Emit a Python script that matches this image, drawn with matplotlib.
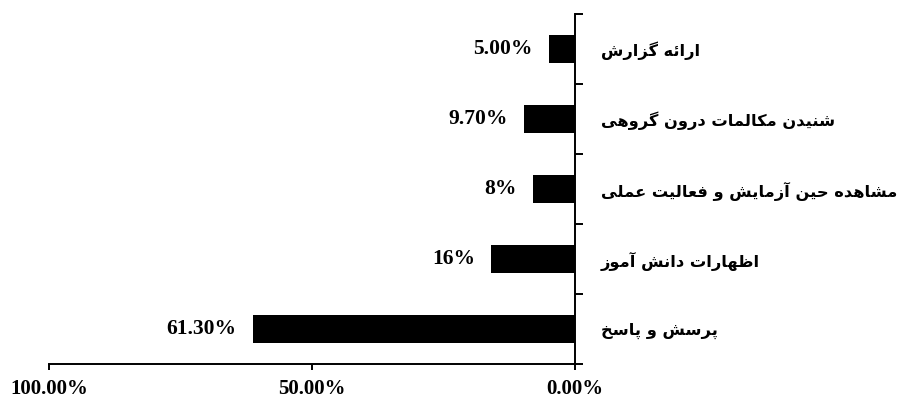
import matplotlib
matplotlib.use("Agg")
import matplotlib.pyplot as plt

# Response categories (top to bottom) and their shares in percent
categories = [
    "ارائه گزارش",
    "شنیدن مکالمات درون گروهی",
    "مشاهده حین آزمایش و فعالیت عملی",
    "اظهارات دانش آموز",
    "پرسش و پاسخ",
]
values = [5.00, 9.70, 8.0, 16.0, 61.30]
value_labels = ["5.00%", "9.70%", "8%", "16%", "61.30%"]
x_ticks = [0, 50, 100]
x_tick_labels = ["0.00%", "50.00%", "100.00%"]

# --- minimal Arabic/Persian contextual shaping (matplotlib has no shaper) ---
# letter: (isolated, final, initial, medial); None for forms that don't exist
FORMS = {
    "\u0621": ("\uFE80", None, None, None),
    "\u0622": ("\uFE81", "\uFE82", None, None),
    "\u0627": ("\uFE8D", "\uFE8E", None, None),
    "\u0626": ("\uFE89", "\uFE8A", "\uFE8B", "\uFE8C"),
    "\u0628": ("\uFE8F", "\uFE90", "\uFE91", "\uFE92"),
    "\u067E": ("\uFB56", "\uFB57", "\uFB58", "\uFB59"),
    "\u062A": ("\uFE95", "\uFE96", "\uFE97", "\uFE98"),
    "\u062B": ("\uFE99", "\uFE9A", "\uFE9B", "\uFE9C"),
    "\u062C": ("\uFE9D", "\uFE9E", "\uFE9F", "\uFEA0"),
    "\u0686": ("\uFB7A", "\uFB7B", "\uFB7C", "\uFB7D"),
    "\u062D": ("\uFEA1", "\uFEA2", "\uFEA3", "\uFEA4"),
    "\u062E": ("\uFEA5", "\uFEA6", "\uFEA7", "\uFEA8"),
    "\u062F": ("\uFEA9", "\uFEAA", None, None),
    "\u0630": ("\uFEAB", "\uFEAC", None, None),
    "\u0631": ("\uFEAD", "\uFEAE", None, None),
    "\u0632": ("\uFEAF", "\uFEB0", None, None),
    "\u0698": ("\uFB8A", "\uFB8B", None, None),
    "\u0633": ("\uFEB1", "\uFEB2", "\uFEB3", "\uFEB4"),
    "\u0634": ("\uFEB5", "\uFEB6", "\uFEB7", "\uFEB8"),
    "\u0635": ("\uFEB9", "\uFEBA", "\uFEBB", "\uFEBC"),
    "\u0636": ("\uFEBD", "\uFEBE", "\uFEBF", "\uFEC0"),
    "\u0637": ("\uFEC1", "\uFEC2", "\uFEC3", "\uFEC4"),
    "\u0638": ("\uFEC5", "\uFEC6", "\uFEC7", "\uFEC8"),
    "\u0639": ("\uFEC9", "\uFECA", "\uFECB", "\uFECC"),
    "\u063A": ("\uFECD", "\uFECE", "\uFECF", "\uFED0"),
    "\u0641": ("\uFED1", "\uFED2", "\uFED3", "\uFED4"),
    "\u0642": ("\uFED5", "\uFED6", "\uFED7", "\uFED8"),
    "\u06A9": ("\uFB8E", "\uFB8F", "\uFB90", "\uFB91"),
    "\u06AF": ("\uFB92", "\uFB93", "\uFB94", "\uFB95"),
    "\u0644": ("\uFEDD", "\uFEDE", "\uFEDF", "\uFEE0"),
    "\u0645": ("\uFEE1", "\uFEE2", "\uFEE3", "\uFEE4"),
    "\u0646": ("\uFEE5", "\uFEE6", "\uFEE7", "\uFEE8"),
    "\u0647": ("\uFEE9", "\uFEEA", "\uFEEB", "\uFEEC"),
    "\u0648": ("\uFEED", "\uFEEE", None, None),
    "\u06CC": ("\uFBFC", "\uFBFD", "\uFBFE", "\uFBFF"),
}


def joins_next(ch):
    f = FORMS.get(ch)
    return f is not None and f[2] is not None


def joins_prev(ch):
    f = FORMS.get(ch)
    return f is not None and f[1] is not None


def shape(text):
    out = []
    n = len(text)
    for i, ch in enumerate(text):
        if ch not in FORMS:
            out.append(ch)
            continue
        prev_c = text[i - 1] if i > 0 else ""
        next_c = text[i + 1] if i + 1 < n else ""
        a = joins_next(prev_c) and joins_prev(ch)
        b = joins_next(ch) and joins_prev(next_c)
        iso, fin, ini, med = FORMS[ch]
        if a and b:
            out.append(med)
        elif a:
            out.append(fin)
        elif b:
            out.append(ini)
        else:
            out.append(iso)
    return "".join(reversed(out))


SERIF = ["Liberation Serif", "DejaVu Sans"]

fig = plt.figure(figsize=(9.02, 3.97), dpi=100)
ax = fig.add_axes([0.0543, 0.0831, 0.5832, 0.8816])

n = len(categories)
ypos = [n - 1 - i for i in range(n)]
ax.barh(ypos, values, height=0.4, color="black")

for y, v, lab in zip(ypos, values, value_labels):
    ax.annotate(lab, xy=(v, y), xytext=(-16, 0), textcoords="offset pixels",
                ha="right", va="center", fontsize=15.5, fontweight="bold",
                family=SERIF)

ax.set_xlim(100, 0)
ax.set_ylim(-0.5, n - 0.5)

ax.set_xticks(x_ticks)
ax.set_xticklabels(x_tick_labels, fontsize=15, fontweight="bold", family=SERIF)
ax.tick_params(axis="x", direction="out", length=4.5, width=1.4, pad=6,
               color="black")

ax.yaxis.tick_right()
ax.set_yticks([k - 0.5 for k in range(n + 1)])
ax.set_yticklabels([])
ax.set_yticks(ypos, minor=True)
ax.set_yticklabels([shape(c) for c in categories], minor=True, fontsize=11.7,
                   fontweight="bold", family=["DejaVu Sans"])
ax.tick_params(axis="y", which="major", direction="out", length=6, width=1.4)
ax.tick_params(axis="y", which="minor", length=0, pad=18.5)

for side in ("top", "left"):
    ax.spines[side].set_visible(False)
for side in ("right", "bottom"):
    ax.spines[side].set_linewidth(1.4)

fig.savefig("out.png", dpi=100)
